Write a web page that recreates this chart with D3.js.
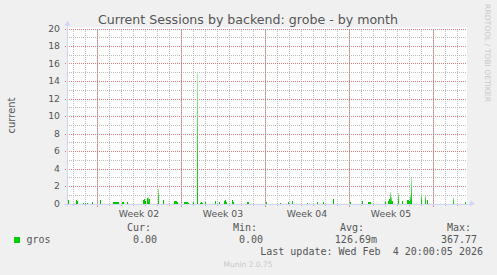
<!DOCTYPE html>
<meta charset="utf-8">
<style>
body { margin: 0; background: #f0f0f0; }
svg { display: block; font-family: "DejaVu Sans", sans-serif; }
.mono { font-family: "DejaVu Sans Mono", monospace; font-size: 10px; fill: #555; }
.tick { font-size: 9.3px; fill: #555; }
</style>
<body>
<svg width="497" height="275"></svg>
</body>
<script src="https://cdn.jsdelivr.net/npm/d3@7"></script>
<script>

// graph window (2h per pixel, ~33 days)
var startTime = "2026-01-02 12:00",
    endTime = "2026-02-04 20:00";

// 2-hour averaged samples that are above zero
var sampleTimes = [
  "2026-01-02 14:00","2026-01-03 06:00","2026-01-03 08:00","2026-01-03 20:00","2026-01-04 00:00","2026-01-04 04:00",
  "2026-01-04 14:00","2026-01-05 06:00","2026-01-06 08:00","2026-01-06 10:00","2026-01-06 12:00","2026-01-06 14:00",
  "2026-01-06 16:00","2026-01-06 18:00","2026-01-07 02:00","2026-01-07 04:00","2026-01-07 12:00","2026-01-08 20:00",
  "2026-01-08 22:00","2026-01-09 00:00","2026-01-09 04:00","2026-01-09 06:00","2026-01-09 08:00","2026-01-10 02:00",
  "2026-01-10 12:00","2026-01-11 10:00","2026-01-11 12:00","2026-01-11 14:00","2026-01-11 16:00","2026-01-12 06:00",
  "2026-01-12 08:00","2026-01-12 10:00","2026-01-12 12:00","2026-01-12 14:00","2026-01-13 00:00","2026-01-13 08:00",
  "2026-01-13 14:00","2026-01-13 16:00","2026-01-13 18:00","2026-01-14 00:00","2026-01-14 20:00","2026-01-15 04:00",
  "2026-01-15 14:00","2026-01-15 16:00","2026-01-15 18:00","2026-01-16 06:00","2026-01-16 08:00","2026-01-17 12:00",
  "2026-01-17 14:00","2026-01-19 02:00","2026-01-20 06:00","2026-01-20 22:00","2026-01-21 06:00","2026-01-22 12:00",
  "2026-01-23 08:00","2026-01-23 20:00","2026-01-24 16:00","2026-01-26 02:00","2026-01-27 02:00","2026-01-27 14:00",
  "2026-01-27 16:00","2026-01-27 18:00","2026-01-29 00:00","2026-01-29 06:00","2026-01-29 08:00","2026-01-29 10:00",
  "2026-01-29 12:00","2026-01-29 14:00","2026-01-30 02:00","2026-01-30 10:00","2026-01-30 20:00","2026-01-30 22:00",
  "2026-01-31 00:00","2026-01-31 02:00","2026-01-31 04:00","2026-02-01 00:00","2026-02-01 08:00","2026-02-01 12:00",
  "2026-02-03 16:00","2026-02-04 16:00"
];
var sampleValues = [
  0.35,0.4,0.3,0.05,0.05,0.05,
  0.2,0.45,0.2,0.2,0.2,0.2,
  0.2,0.2,0.2,0.15,0.2,0.45,
  0.5,0.3,0.6,0.75,0.5,1.7,
  0.4,0.3,0.25,0.3,0.2,0.15,
  0.2,0.2,0.15,0.1,0.2,15,
  0.1,0.15,0.1,0.15,0.3,0.2,
  0.3,0.35,0.2,0.35,0.2,0.2,
  0.2,0.2,0.1,0.15,0.3,0.1,
  0.2,0.15,0.55,0.2,0.3,0.2,
  0.2,0.2,0.2,0.25,0.5,1.35,
  0.8,0.3,1.15,0.3,0.4,0.4,
  0.3,1.0,2.95,1.15,1.0,0.4,
  0.65,0.2
];

var yTicks = [0, 2, 4, 6, 8, 10, 12, 14, 16, 18, 20];
var legendHeads = ["Cur:", "Min:", "Avg:", "Max:"];
var legendValues = ["0.00", "0.00", "126.69m", "367.77"];
var seriesName = "gros";
var seriesColor = "#00cc00";
var titleText = "Current Sessions by backend: grobe - by month";
var lastUpdate = "Last update: Wed Feb  4 20:00:05 2026";

var svg = d3.select("svg");
var parse = d3.utcParse("%Y-%m-%d %H:%M");
var twoHours = 2 * 3600 * 1000;

var x = d3.scaleUtc()
    .domain([parse(startTime), parse(endTime)])
    .range([67, 467]);

var y = d3.scaleLinear()
    .domain([0, 20])
    .range([203.5, 28.5]);

// canvas
svg.append("rect")
    .attr("x", x.range()[0]).attr("y", y(20) - 1)
    .attr("width", x.range()[1] - x.range()[0]).attr("height", y(0) - y(20) + 1)
    .attr("fill", "#fff");

var grid = svg.append("g").attr("shape-rendering", "crispEdges");
var minorColor = "#bdbdbd", majorColor = "#dd7f7f";

// minor horizontal grid every 1
grid.selectAll(".hmin")
  .data(d3.range(1, 20, 2))
  .enter().append("line")
    .attr("x1", x.range()[0]).attr("x2", x.range()[1])
    .attr("y1", function(d) { return Math.round(y(d)) + 0.5; })
    .attr("y2", function(d) { return Math.round(y(d)) + 0.5; })
    .attr("stroke", minorColor).attr("stroke-dasharray", "1,1");

// daily and weekly vertical grid
var days = d3.utcDay.range(x.domain()[0], x.domain()[1]);
var weeks = d3.utcMonday.range(x.domain()[0], x.domain()[1]);

grid.selectAll(".vmin")
  .data(days)
  .enter().append("line")
    .attr("x1", function(d) { return Math.round(x(d)) + 0.5; })
    .attr("x2", function(d) { return Math.round(x(d)) + 0.5; })
    .attr("y1", y(0) + 2).attr("y2", y(20))
    .attr("stroke", minorColor).attr("stroke-dasharray", "1,1");

grid.selectAll(".hmaj")
  .data(yTicks.slice(1))
  .enter().append("line")
    .attr("x1", x.range()[0] - 2).attr("x2", x.range()[1])
    .attr("y1", function(d) { return Math.round(y(d)) + 0.5; })
    .attr("y2", function(d) { return Math.round(y(d)) + 0.5; })
    .attr("stroke", majorColor).attr("stroke-dasharray", "1,1");

grid.selectAll(".vmaj")
  .data(weeks)
  .enter().append("line")
    .attr("x1", function(d) { return Math.round(x(d)) + 0.5; })
    .attr("x2", function(d) { return Math.round(x(d)) + 0.5; })
    .attr("y1", y(0) + 3).attr("y2", y(20))
    .attr("stroke", majorColor).attr("stroke-dasharray", "1,1");

// data bars, taller ones fade to a lighter green at the top
var defs = svg.append("defs");
var grad = defs.append("linearGradient")
    .attr("id", "fade").attr("x1", 0).attr("y1", 1).attr("x2", 0).attr("y2", 0);
grad.append("stop").attr("offset", "0").attr("stop-color", "#00c800");
grad.append("stop").attr("offset", "0.4").attr("stop-color", "#30d030");
grad.append("stop").attr("offset", "1").attr("stop-color", "#b4ecb4");

var samples = sampleTimes.map(function(t, i) { return { t: parse(t), v: sampleValues[i] }; });

svg.append("g")
    .attr("shape-rendering", "crispEdges")
  .selectAll("rect")
  .data(samples)
  .enter().append("rect")
    .attr("x", function(d) { return Math.round(x(d.t)); })
    .attr("width", function(d) { return Math.max(1, Math.round(x(new Date(+d.t + twoHours)) - x(d.t))); })
    .attr("y", function(d) { return y(Math.min(d.v, 20)); })
    .attr("height", function(d) { return y(0) - y(Math.min(d.v, 20)); })
    .attr("fill", function(d) { return d.v > 0.6 ? "url(#fade)" : seriesColor; });

// axes with arrows
var axisColor = "#cfd6f8";
svg.append("line")
    .attr("x1", x.range()[0] - 3).attr("x2", x.range()[1] + 3)
    .attr("y1", Math.round(y(0)) + 0.5).attr("y2", Math.round(y(0)) + 0.5)
    .attr("stroke", axisColor);
svg.append("line")
    .attr("x1", x.range()[0] + 0.5).attr("x2", x.range()[0] + 0.5)
    .attr("y1", y(0) + 3).attr("y2", y(20) - 4)
    .attr("stroke", axisColor);
svg.append("path")
    .attr("d", d3.line()([[x.range()[1] + 3, y(0) - 3], [x.range()[1] + 8, y(0)], [x.range()[1] + 3, y(0) + 3]]))
    .attr("fill", axisColor);
svg.append("path")
    .attr("d", d3.line()([[x.range()[0] - 2.5, y(20) - 3], [x.range()[0] + 0.5, y(20) - 8], [x.range()[0] + 3.5, y(20) - 3]]))
    .attr("fill", axisColor);

// tick labels
svg.selectAll(".ylab")
  .data(yTicks)
  .enter().append("text")
    .attr("class", "tick")
    .attr("x", 60)
    .attr("y", function(d) { return y(d) + 3.4; })
    .attr("text-anchor", "end")
    .text(function(d) { return d; });

// week labels sit in the middle of each week
var fmtWeek = d3.utcFormat("Week %V");
var weekMids = weeks.map(function(d) { return d3.utcHour.offset(d, 84); })
    .filter(function(d) { return d < x.domain()[1]; });
svg.selectAll(".xlab")
  .data(weekMids)
  .enter().append("text")
    .attr("class", "tick")
    .attr("x", function(d) { return x(d); })
    .attr("y", 216.5)
    .attr("text-anchor", "middle")
    .text(fmtWeek);

// title and labels
svg.append("text")
    .attr("x", 248).attr("y", 23.5)
    .attr("text-anchor", "middle")
    .attr("font-size", "12.6px").attr("fill", "#555")
    .text(titleText);

svg.append("text")
    .attr("transform", "translate(15,115.5) rotate(-90)")
    .attr("text-anchor", "middle")
    .attr("font-size", "10px").attr("fill", "#555")
    .text("current");

svg.append("text")
    .attr("transform", "translate(484.5,53) rotate(90)")
    .attr("text-anchor", "middle")
    .attr("font-size", "7.6px").attr("fill", "#c8c8c8")
    .text("RRDTOOL / TOBI OETIKER");

// legend
svg.append("rect")
    .attr("x", 14).attr("y", 237).attr("width", 6).attr("height", 6)
    .attr("fill", seriesColor);
svg.append("text").attr("class", "mono").attr("x", 26.5).attr("y", 243).text(seriesName);

var headX = [127, 233, 340, 447],
    valX = [157, 263, 377, 477];
svg.selectAll(".lh")
  .data(legendHeads)
  .enter().append("text")
    .attr("class", "mono")
    .attr("x", function(d, i) { return headX[i]; })
    .attr("y", 231)
    .text(function(d) { return d; });
svg.selectAll(".lv")
  .data(legendValues)
  .enter().append("text")
    .attr("class", "mono")
    .attr("x", function(d, i) { return valX[i]; })
    .attr("y", 243)
    .attr("text-anchor", "end")
    .text(function(d) { return d; });

svg.append("text").attr("class", "mono")
    .attr("x", 483).attr("y", 255).attr("text-anchor", "end")
    .style("white-space", "pre")
    .text(lastUpdate);

svg.append("text")
    .attr("x", 248).attr("y", 266.5)
    .attr("text-anchor", "middle")
    .attr("font-size", "7.5px").attr("fill", "#c8c8c8")
    .text("Munin 2.0.75");

</script>
